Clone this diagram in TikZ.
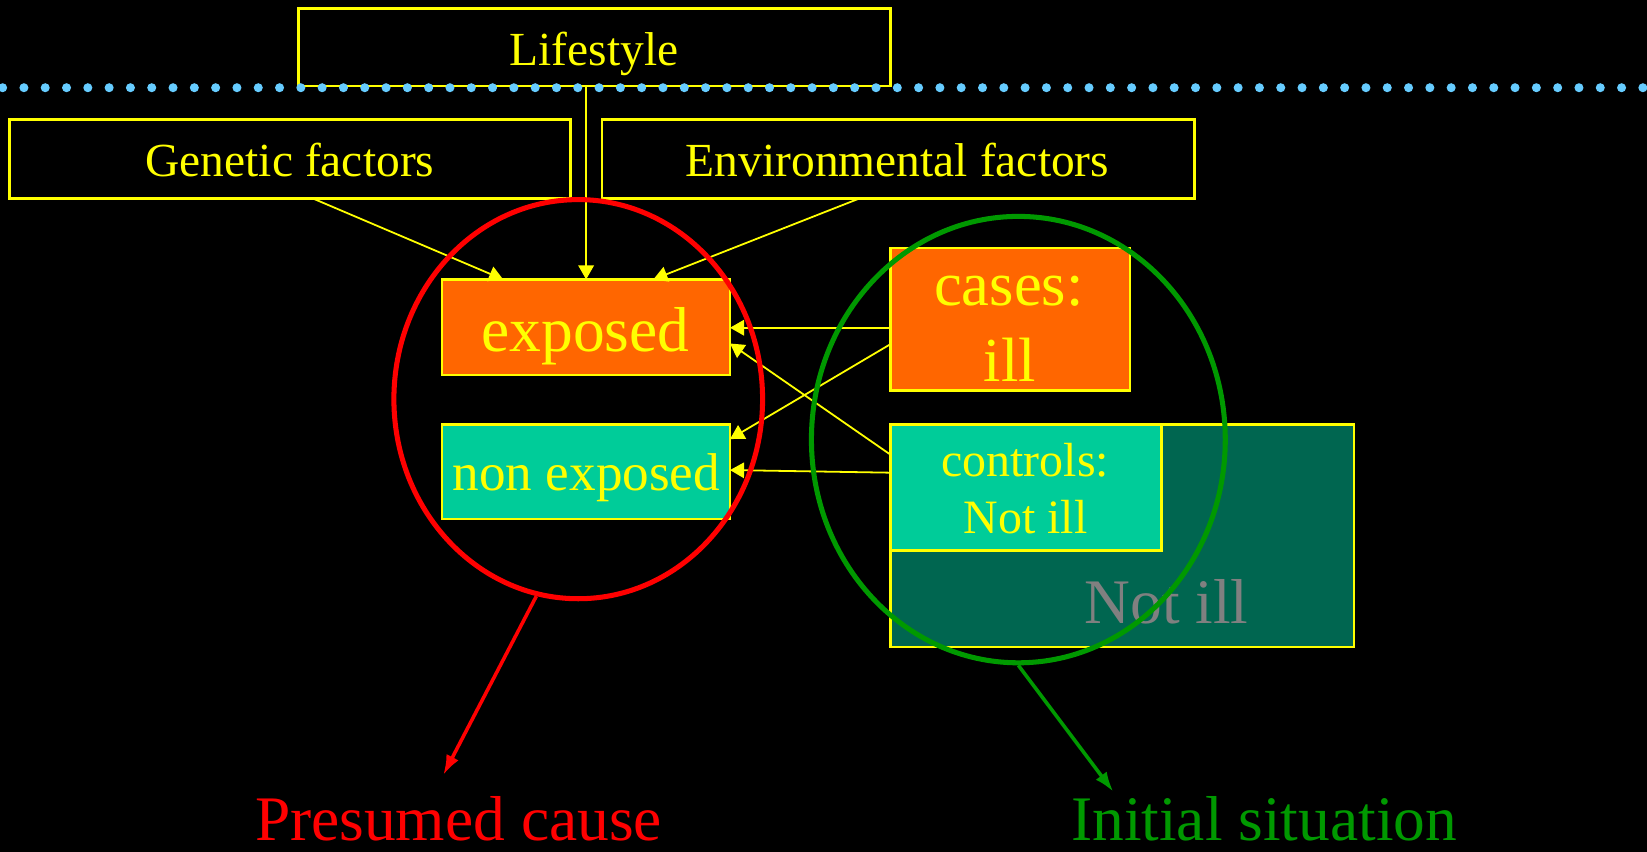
\documentclass[tikz,border=0pt]{standalone}
\usepackage{fontspec}
\setmainfont{Liberation Serif}
\usetikzlibrary{shapes.geometric,arrows.meta,calc}
\definecolor{ylw}{HTML}{FFFF00}
\definecolor{orng}{HTML}{FF6600}
\definecolor{teal1}{HTML}{00CC99}
\definecolor{dkgreen}{HTML}{006650}
\definecolor{grn}{HTML}{009900}
\definecolor{dotblue}{HTML}{66CCFF}
\definecolor{gry}{HTML}{808080}
\begin{document}
\begin{tikzpicture}[x=0.5pt,y=-0.5pt,
  box/.style={draw=ylw, line width=1.2pt, inner sep=0pt, outer sep=0pt},
  conn/.style={draw=ylw, line width=0.85pt, -{Triangle[length=6.7pt,width=7.4pt]}},
  txt/.style={text=ylw, inner sep=0pt, anchor=base},
  fsmall/.style={font=\fontsize{22.6pt}{27pt}\selectfont},
  fbig/.style={font=\fontsize{30.2pt}{36pt}\selectfont},
  bigarrow/.style={line width=1.7pt, -{Latex[length=9.5pt,width=6.5pt]}}]
\useasboundingbox (0,0) rectangle (1568,811);
\fill[black] (0,0) rectangle (1568,811);

% top boxes
\node[box, minimum width=282pt, minimum height=37pt] (life) at (566,45) {};
\node[box, minimum width=267pt, minimum height=37.5pt] (gen) at (276,151.5) {};
\node[box, minimum width=282pt, minimum height=37.5pt] (env) at (855,151.5) {};
\node[txt, fsmall] (lifeT) at (565.5,62) {Lifestyle};
\node[txt, fsmall] (genT) at (276,168) {Genetic factors};
\node[txt, fsmall] (envT) at (854.5,168) {Environmental factors};

% dotted line
\foreach \i in {0,...,77} \fill[dotblue] (2.5+\i*20.28,83.5) circle[radius=2.15pt];

% middle boxes
\node[box, fill=orng, minimum width=137pt, minimum height=45.5pt] (exp) at (558,311.5) {};
\node[box, fill=teal1, minimum width=137pt, minimum height=45pt] (non) at (558,449) {};
\node[box, fill=orng, minimum width=114pt, minimum height=68pt] (cases) at (962,304) {};
\node[box, fill=dkgreen, minimum width=220.5pt, minimum height=106pt] (nill) at (1068.5,510) {};
\node[box, fill=teal1, minimum width=129pt, minimum height=60pt] (ctrl) at (977,464) {};

% texts
\node[txt, fbig] (expT) at (557.5,335) {exposed};
\node[txt, font=\fontsize{25.3pt}{30pt}\selectfont] (nonT) at (558.3,467) {non exposed};
\node[txt, font=\fontsize{29.8pt}{36pt}\selectfont] (casesT) at (960.5,290.4) {cases:};
\node[txt, font=\fontsize{29.8pt}{36pt}\selectfont] (illT) at (961.5,363.4) {ill};
\node[txt, font=\fontsize{22.8pt}{27pt}\selectfont] (ctrlT) at (976,453.8) {controls:};
\node[txt, font=\fontsize{22.8pt}{27pt}\selectfont] (ctrlT2) at (976.5,507.7) {Not ill};
\node[txt, fbig, text=gry] (nillT) at (1110.5,593.4) {Not ill};

% connectors
\draw[conn] ($(life.south)+(-8,0)$) -- (exp.north);
\draw[conn] ($(gen.south)+(22,0)$) -- ($(exp.north)+(-79,0)$);
\draw[conn] ($(env.south)+(-37,0)$) -- ($(exp.north)+(64,0)$);
\draw[conn] ($(cases.west)+(0,8)$) -- ($(exp.east)+(0,0.5)$);
\draw[conn] ($(cases.west)+(0,23.5)$) -- ($(non.east)+(0,-31)$);
\draw[conn] ($(ctrl.west)+(0,-31)$) -- ($(exp.east)+(0,15.5)$);
\draw[conn] ($(ctrl.west)+(0,-14)$) -- ($(non.east)+(0,-1.5)$);

% circles
\node[ellipse, draw=red, line width=2.4pt, inner sep=0pt, minimum width=175.5pt, minimum height=190pt] (redc) at (550.5,380) {};
\node[ellipse, draw=grn, line width=2.4pt, inner sep=0pt, minimum width=197pt, minimum height=212.5pt] (greenc) at (969.5,418.5) {};

% bottom arrows and labels
\coordinate (presTip) at (422,737.8);
\coordinate (initTip) at (1059.9,753.7);
\draw[bigarrow, red] (redc.258) -- (presTip);
\draw[bigarrow, grn] (greenc.south) -- (initTip);
\node[txt, fbig, text=red, text depth=0pt] (presT) at (436.5,800.5) {Presumed cause};
\node[txt, fbig, text=grn, text depth=0pt] (initT) at (1203.5,800) {Initial situation};
\end{tikzpicture}
\end{document}
